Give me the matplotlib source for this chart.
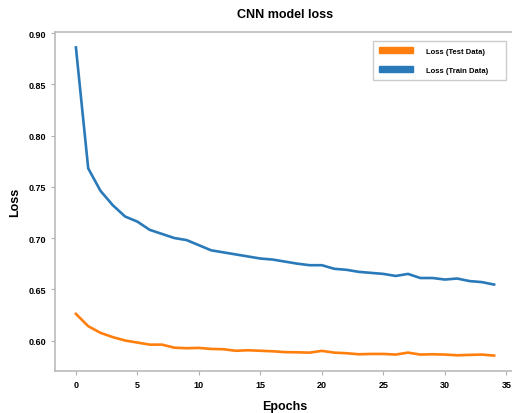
import matplotlib
matplotlib.use('Agg')
import matplotlib.pyplot as plt
import numpy as np

plt.rcParams['font.family'] = ['Liberation Sans', 'DejaVu Sans']
plt.rcParams['font.weight'] = 'bold'

# loss per epoch
epochs = np.arange(35)
train_loss = [0.886, 0.768, 0.746, 0.732, 0.721, 0.716, 0.708, 0.704, 0.700, 0.698,
              0.693, 0.688, 0.686, 0.684, 0.682, 0.680, 0.679, 0.677, 0.675, 0.6735,
              0.6735, 0.670, 0.669, 0.667, 0.666, 0.665, 0.663, 0.665, 0.661, 0.661,
              0.6595, 0.6605, 0.658, 0.657, 0.6546]
test_loss = [0.626, 0.614, 0.6075, 0.6033, 0.600, 0.598, 0.596, 0.596, 0.593, 0.5925,
             0.5928, 0.5918, 0.5915, 0.590, 0.5905, 0.590, 0.5895, 0.5887, 0.5885, 0.5882,
             0.5899, 0.5882, 0.5876, 0.5866, 0.5869, 0.5869, 0.5863, 0.5882, 0.5863, 0.5866,
             0.5863, 0.5856, 0.586, 0.5863, 0.5853]

fig = plt.figure(figsize=(5.12, 4.14), dpi=100)
ax = fig.add_axes([55 / 512, 42 / 414, 460 / 512, 339 / 414])

ax.plot(epochs, test_loss, color='#ff7f0e', lw=1.9, label='Loss (Test Data)')
ax.plot(epochs, train_loss, color='#2a7ab9', lw=1.9, label='Loss (Train Data)')

ax.set_xticks(np.arange(0, 36, 5))
ax.set_yticks([0.60, 0.65, 0.70, 0.75, 0.80, 0.85, 0.90])
ax.yaxis.set_major_formatter(plt.FormatStrFormatter('%.2f'))
ax.tick_params(labelsize=6.5, color='#b0b0b0', length=3, pad=3.5)
for s in ax.spines.values():
    s.set_color('#bbbbbb')
    s.set_linewidth(1.2)

ax.set_title('CNN model loss', fontsize=9, fontweight='bold', pad=11)
ax.set_xlabel('Epochs', fontsize=9, fontweight='bold', labelpad=8)
ax.set_ylabel('Loss', fontsize=9, fontweight='bold', labelpad=5)

handles = [plt.Rectangle((0, 0), 1, 1, color='#ff7f0e'),
           plt.Rectangle((0, 0), 1, 1, color='#2a7ab9')]
leg = ax.legend(handles, ['Loss (Test Data)', 'Loss (Train Data)'],
                loc='upper left', mode='expand',
                bbox_to_anchor=(373 / 512, 333 / 414, 133 / 512, 39 / 414),
                bbox_transform=fig.transFigure, borderaxespad=0,
                fontsize=5.5, handlelength=4.5, handleheight=0.8,
                handletextpad=1.6, labelspacing=1.5, borderpad=0.8,
                fancybox=False, framealpha=1, edgecolor='#cccccc')
leg.get_frame().set_linewidth(1.0)

fig.savefig('out.png', dpi=100)
